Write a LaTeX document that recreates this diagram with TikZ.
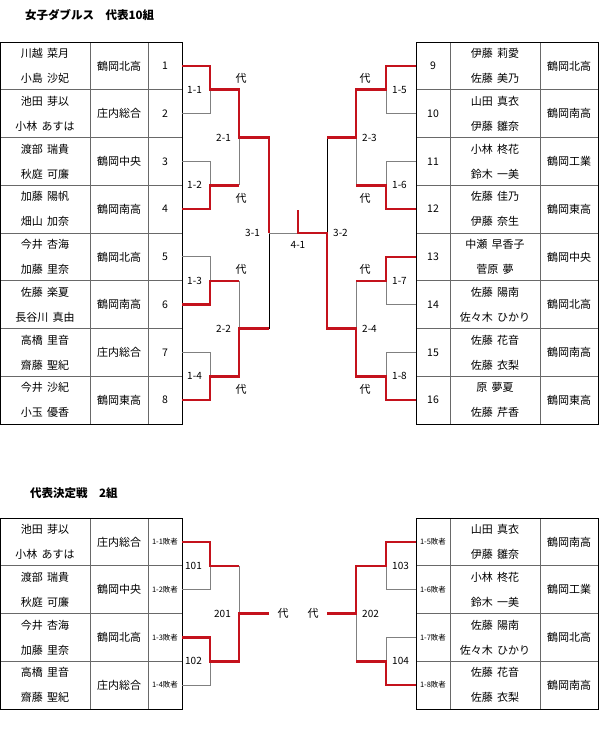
\documentclass[tikz,border=0pt]{standalone}
\usepackage{fontspec}
\setmainfont{Noto Sans CJK JP}
\usepackage{xcolor}
\usetikzlibrary{positioning}
\definecolor{winred}{RGB}{196,18,28}
\definecolor{gridgrey}{RGB}{105,105,105}
\definecolor{bracketgrey}{RGB}{128,128,128}
\newcommand{\namefont}{\fontsize{11pt}{25pt}\selectfont\spaceskip 0.4em\relax}

\begin{document}
\begin{tikzpicture}[x=1pt, y=-1pt,
    tcell/.style={draw=gridgrey, line width=0.8pt, minimum height=47.75pt, inner sep=0pt, outer sep=0pt, align=center},
    namebox/.style={tcell, minimum width=90pt, font=\namefont},
    schoolbox/.style={tcell, minimum width=58pt, font=\fontsize{11pt}{13pt}\selectfont},
    numbox/.style={tcell, minimum width=34pt, font=\fontsize{10.5pt}{12pt}\selectfont},
    loserbox/.style={numbox, font=\fontsize{7.5pt}{9pt}\selectfont},
    tableframe/.style={draw=black, line width=0.8pt},
    loseline/.style={draw=bracketgrey, line width=0.9pt},
    darkline/.style={draw=black, line width=0.8pt},
    winline/.style={draw=winred, line width=2.5pt},
    lbl/.style={inner sep=1pt, font=\fontsize{10pt}{12pt}\selectfont},
    dai/.style={inner sep=1pt, font=\fontsize{11pt}{13pt}\selectfont},
    headline/.style={anchor=west, inner sep=0pt, font=\bfseries\fontsize{11.5pt}{14pt}\selectfont}]
    \useasboundingbox (0,0) rectangle (600,738);

    % Titles
    \node[headline] (title1) at (25,15) {女子ダブルス　代表10組};
    \node[headline] (title2) at (30,493) {代表決定戦　2組};

    % Left table (1-8)
    \foreach \i/\pa/\pb/\sch in {1/川越 菜月/小島 沙妃/鶴岡北高, 2/池田 芽以/小林 あすは/庄内総合,
        3/渡部 瑞貴/秋庭 可廉/鶴岡中央, 4/加藤 陽帆/畑山 加奈/鶴岡南高,
        5/今井 杏海/加藤 里奈/鶴岡北高, 6/佐藤 楽夏/長谷川 真由/鶴岡南高,
        7/高橋 里音/齋藤 聖紀/庄内総合, 8/今井 沙紀/小玉 優香/鶴岡東高} {
        \node[namebox] (nm\i) at (45,{42+47.75*(\i-0.5)}) {\pa\\\pb};
        \node[schoolbox, right=0pt of nm\i] (sc\i) {\sch};
        \node[numbox, right=0pt of sc\i] (no\i) {\i};
    }
    \draw[tableframe] (nm1.north west) rectangle (no8.south east);

    % Right table (9-16)
    \foreach \i/\pa/\pb/\sch in {9/伊藤 莉愛/佐藤 美乃/鶴岡北高, 10/山田 真衣/伊藤 雛奈/鶴岡南高,
        11/小林 柊花/鈴木 一美/鶴岡工業, 12/佐藤 佳乃/伊藤 奈生/鶴岡東高,
        13/中瀬 早香子/菅原 夢/鶴岡中央, 14/佐藤 陽南/佐々木 ひかり/鶴岡北高,
        15/佐藤 花音/佐藤 衣梨/鶴岡南高, 16/原 夢夏/佐藤 芹香/鶴岡東高} {
        \node[numbox] (no\i) at (433,{42+47.75*(\i-8.5)}) {\i};
        \node[namebox, right=0pt of no\i] (nm\i) {\pa\\\pb};
        \node[schoolbox, right=0pt of nm\i] (sc\i) {\sch};
    }
    \draw[tableframe] (no9.north west) rectangle (sc16.south east);

    % Match points
    \coordinate (m11) at (210,89.75);
    \coordinate (m12) at (210,185.25);
    \coordinate (m13) at (210,280.75);
    \coordinate (m14) at (210,376.25);
    \coordinate (m21) at (239,137.5);
    \coordinate (m22) at (239,328.5);
    \coordinate (m31) at (269,233);
    \coordinate (m41) at (298,233);
    \coordinate (m41top) at (298,209.5);
    \coordinate (m15) at (386,89.75);
    \coordinate (m16) at (386,185.25);
    \coordinate (m17) at (386,280.75);
    \coordinate (m18) at (386,376.25);
    \coordinate (m23) at (356,137.5);
    \coordinate (m24) at (356,328.5);
    \coordinate (m32) at (327,233);

    % Losing lines
    \draw[loseline] (no2.east) -| (m11);
    \draw[loseline] (no3.east) -| (m12);
    \draw[loseline] (no5.east) -| (m13);
    \draw[loseline] (no7.east) -| (m14);
    \draw[loseline] (m12 -| m21) -- (m21);
    \draw[loseline] (m13 -| m22) -- (m22);
    \draw[darkline] (m22 -| m31) -- (m31);
    \draw[loseline] (m31) -- (m41);
    \draw[loseline] (no10.west) -| (m15);
    \draw[loseline] (no11.west) -| (m16);
    \draw[loseline] (no14.west) -| (m17);
    \draw[loseline] (no15.west) -| (m18);
    \draw[loseline] (m16 -| m23) -- (m23);
    \draw[loseline] (m17 -| m24) -- (m24);
    \draw[darkline] (m23 -| m32) -- (m32);

    % Winning lines
    \draw[winline] (no1.east) -| (m11) -| (m21) -| (m31);
    \draw[winline] (no4.east) -| (m12) -- (m12 -| m21);
    \draw[winline] (no6.east) -| (m13) -- (m13 -| m22);
    \draw[winline] (no8.east) -| (m14) -| (m22) -- (m22 -| m31);
    \draw[winline] (no9.west) -| (m15) -| (m23) -- (m23 -| m32);
    \draw[winline] (no12.west) -| (m16) -- (m16 -| m23);
    \draw[winline] (no13.west) -| (m17) -- (m17 -| m24);
    \draw[winline] (no16.west) -| (m18) -| (m24) -| (m32) -- (m41) -- (m41top);

    % Match labels
    \node[lbl, left=7pt of m11] (l11) {1-1};
    \node[lbl, left=7pt of m12] (l12) {1-2};
    \node[lbl, left=7pt of m13] (l13) {1-3};
    \node[lbl, left=7pt of m14] (l14) {1-4};
    \node[lbl, left=7pt of m21] (l21) {2-1};
    \node[lbl, left=7pt of m22] (l22) {2-2};
    \node[lbl, left=8pt of m31] (l31) {3-1};
    \node[lbl, below=7pt of m41] (l41) {4-1};
    \node[lbl, right=5pt of m32] (l32) {3-2};
    \node[lbl, right=5pt of m23] (l23) {2-3};
    \node[lbl, right=5pt of m24] (l24) {2-4};
    \node[lbl, right=5pt of m15] (l15) {1-5};
    \node[lbl, right=5pt of m16] (l16) {1-6};
    \node[lbl, right=5pt of m17] (l17) {1-7};
    \node[lbl, right=5pt of m18] (l18) {1-8};

    % Representative marks
    \node[dai] (d11) at (241,78) {代};
    \node[dai] (d12) at (241,198) {代};
    \node[dai] (d13) at (241,269) {代};
    \node[dai] (d14) at (241,389) {代};
    \node[dai] (d15) at (365,78) {代};
    \node[dai] (d16) at (365,198) {代};
    \node[dai] (d17) at (365,269) {代};
    \node[dai] (d18) at (365,389) {代};

    % Playoff tables
    \foreach \i/\pa/\pb/\sch in {1/池田 芽以/小林 あすは/庄内総合, 2/渡部 瑞貴/秋庭 可廉/鶴岡中央,
        3/今井 杏海/加藤 里奈/鶴岡北高, 4/高橋 里音/齋藤 聖紀/庄内総合} {
        \node[namebox] (bn\i) at (45,{518+47.75*(\i-0.5)}) {\pa\\\pb};
        \node[schoolbox, right=0pt of bn\i] (bs\i) {\sch};
        \node[loserbox, right=0pt of bs\i] (lo\i) {1-{\i}敗者};
    }
    \draw[tableframe] (bn1.north west) rectangle (lo4.south east);
    \foreach \i/\pa/\pb/\sch in {5/山田 真衣/伊藤 雛奈/鶴岡南高, 6/小林 柊花/鈴木 一美/鶴岡工業,
        7/佐藤 陽南/佐々木 ひかり/鶴岡北高, 8/佐藤 花音/佐藤 衣梨/鶴岡南高} {
        \node[loserbox] (lo\i) at (433,{518+47.75*(\i-4.5)}) {1-{\i}敗者};
        \node[namebox, right=0pt of lo\i] (bn\i) {\pa\\\pb};
        \node[schoolbox, right=0pt of bn\i] (bs\i) {\sch};
    }
    \draw[tableframe] (lo5.north west) rectangle (bs8.south east);

    % Playoff bracket
    \coordinate (m101) at (210,565.75);
    \coordinate (m102) at (210,661.25);
    \coordinate (m201) at (239,613.5);
    \coordinate (e201) at (269,613.5);
    \coordinate (m103) at (386,565.75);
    \coordinate (m104) at (386,661.25);
    \coordinate (m202) at (356,613.5);
    \coordinate (e202) at (327,613.5);

    \draw[loseline] (lo2.east) -| (m101);
    \draw[loseline] (lo4.east) -| (m102);
    \draw[loseline] (m101 -| m201) -- (m201);
    \draw[loseline] (lo6.west) -| (m103);
    \draw[loseline] (lo7.west) -| (m104);
    \draw[loseline] (m104 -| m202) -- (m202);

    \draw[winline] (lo1.east) -| (m101) -- (m101 -| m201);
    \draw[winline] (lo3.east) -| (m102) -| (m201) -- (e201);
    \draw[winline] (lo5.west) -| (m103) -| (m202) -- (e202);
    \draw[winline] (lo8.west) -| (m104) -- (m104 -| m202);

    \node[lbl, left=7pt of m101] (l101) {101};
    \node[lbl, left=7pt of m102] (l102) {102};
    \node[lbl, left=7pt of m201] (l201) {201};
    \node[lbl, right=5pt of m103] (l103) {103};
    \node[lbl, right=5pt of m104] (l104) {104};
    \node[lbl, right=5pt of m202] (l202) {202};
    \node[dai] (d201) at (283,613.5) {代};
    \node[dai] (d202) at (313,613.5) {代};
\end{tikzpicture}
\end{document}
